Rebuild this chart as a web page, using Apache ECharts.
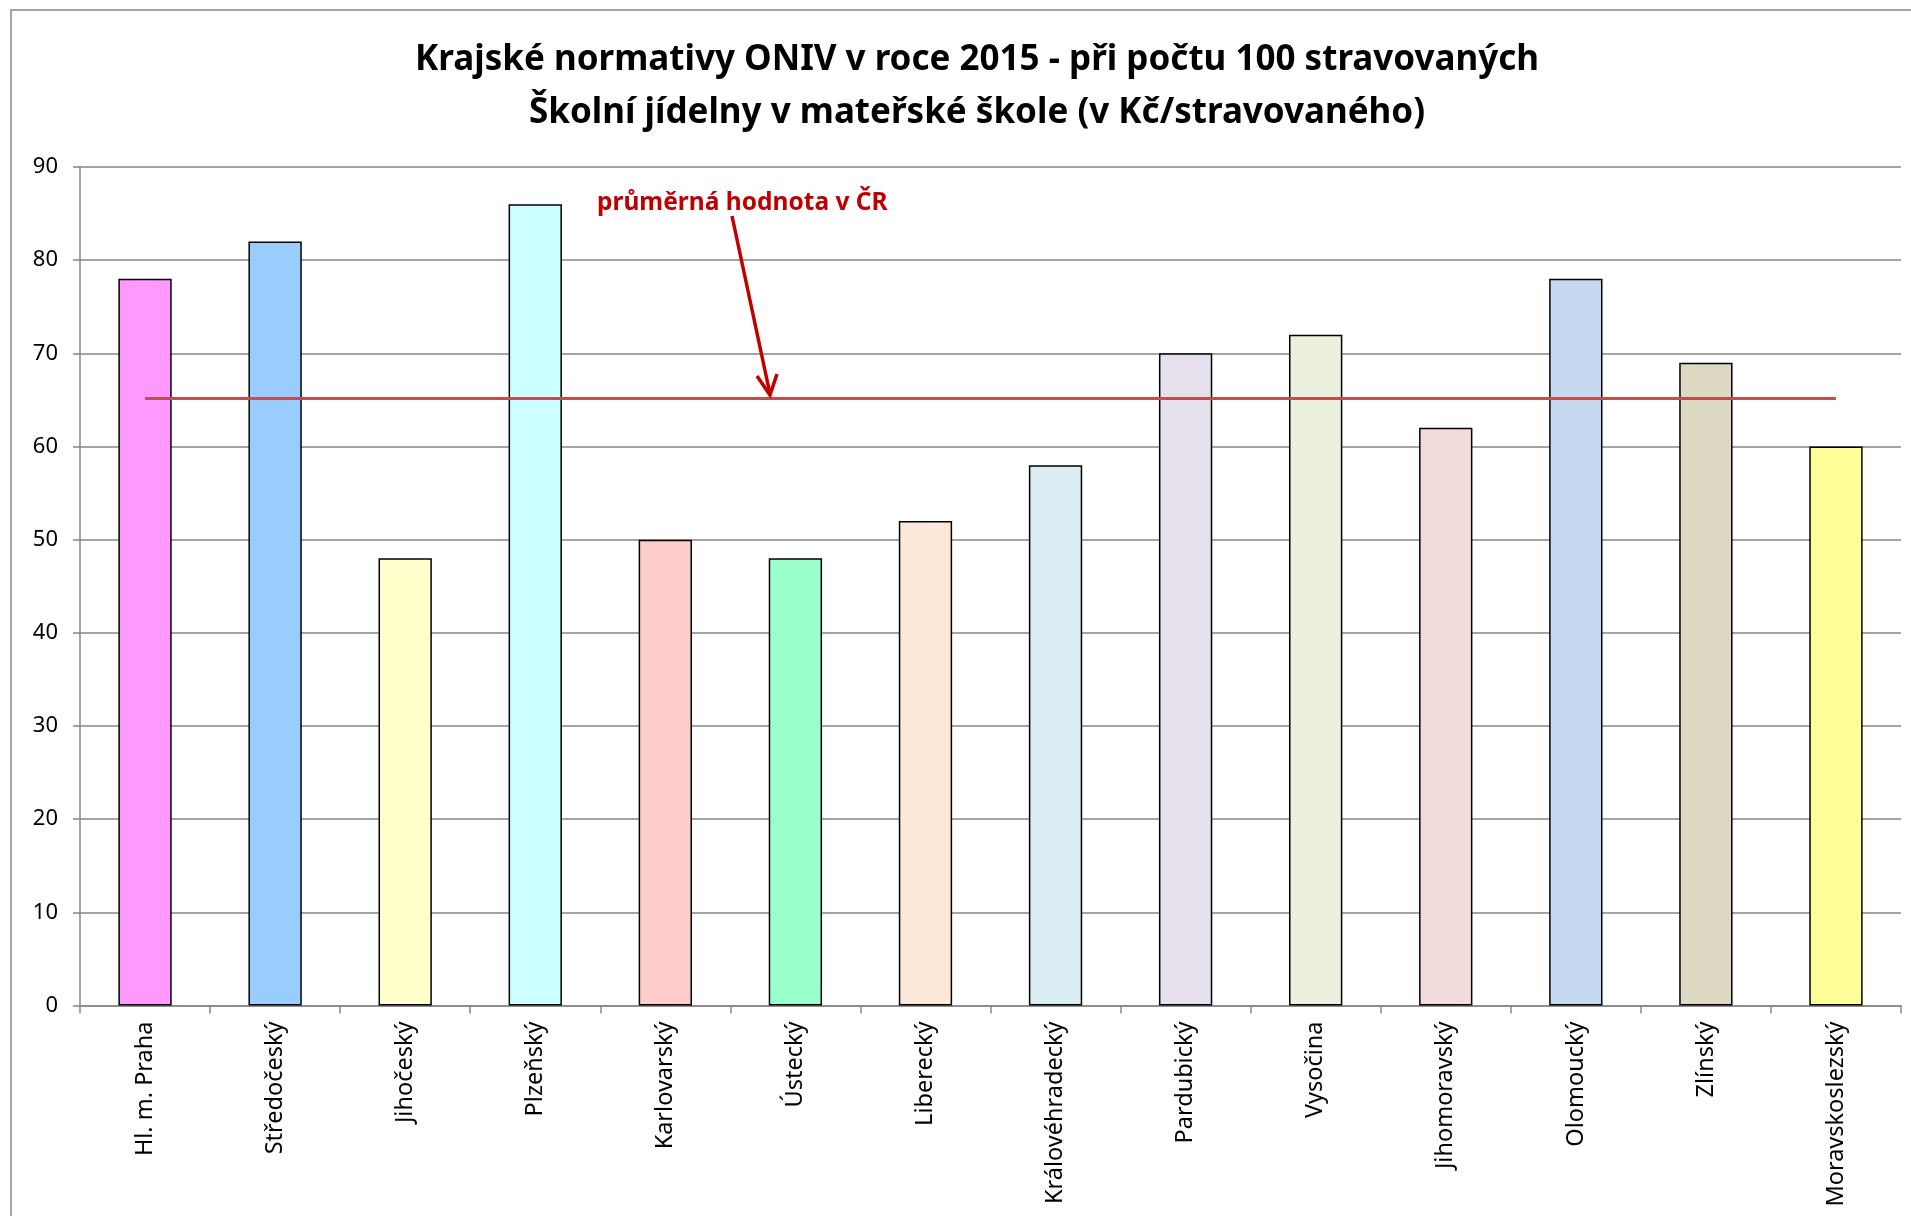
<!DOCTYPE html>
<html><head><meta charset="utf-8">
<script src="https://cdn.jsdelivr.net/npm/echarts@6/dist/echarts.min.js"></script>
<style>html,body{margin:0;padding:0;background:#fff}#c{width:1911px;height:1216px}</style>
</head><body><div id="c"></div>
<script>
const categories = ['Hl. m. Praha','Středočeský','Jihočeský','Plzeňský','Karlovarský','Ústecký','Liberecký','Královéhradecký','Pardubický','Vysočina','Jihomoravský','Olomoucký','Zlínský','Moravskoslezský'];
const values = [78, 82, 48, 86, 50, 48, 52, 58, 70, 72, 62, 78, 69, 60];
const barColors = ['#FF99FF','#99CCFF','#FFFFCC','#CCFFFF','#FFCCCC','#99FFCC','#FDE9D9','#DAEEF3','#E5E0EC','#EBF1DE','#F2DCDB','#C6D9F1','#DDD9C4','#FFFF99'];
const averageValue = 65.2;
const yTicks = [0,10,20,30,40,50,60,70,80,90];
const titleLines = ['Krajské normativy ONIV v roce 2015 - při počtu 100 stravovaných','Školní jídelny v mateřské škole (v Kč/stravovaného)'];
const annotation = 'průměrná hodnota v ČR';

const FONT = 'Noto Sans';
const chart = echarts.init(document.getElementById('c'));
chart.setOption({
  animation: false,
  backgroundColor: '#fff',
  textStyle: { fontFamily: FONT },
  title: {
    text: titleLines.join('\n'),
    left: 972, top: 29, textAlign: 'center',
    textStyle: { fontFamily: FONT, fontWeight: 'bold', fontSize: 35, lineHeight: 53, color: '#000' }
  },
  grid: { left: 80, right: 10, top: 167, bottom: 210.5, containLabel: false },
  xAxis: {
    type: 'category', data: categories,
    axisLine: { lineStyle: { color: '#868686', width: 1.5 } },
    axisTick: { show: true, length: 8, lineStyle: { color: '#868686', width: 1.5 } },
    axisLabel: { rotate: 90, margin: 16, fontSize: 23.5, color: '#000', fontFamily: FONT, interval: 0 }
  },
  yAxis: {
    type: 'value', min: yTicks[0], max: yTicks[yTicks.length-1], interval: 10,
    axisLine: { show: true, lineStyle: { color: '#868686', width: 1.5 } },
    axisTick: { show: true, length: 7, lineStyle: { color: '#868686', width: 1.5 } },
    axisLabel: { fontSize: 22, color: '#000', margin: 22, fontFamily: FONT },
    splitLine: { lineStyle: { color: '#868686', width: 1.5 } }
  },
  series: [{
    type: 'bar',
    data: values.map((v, i) => ({ value: v, itemStyle: { color: barColors[i] } })),
    barWidth: '41%',
    itemStyle: { borderColor: '#000', borderWidth: 1.5 },
    markLine: {
      silent: true, symbol: ['none','none'],
      label: { show: false },
      lineStyle: { color: '#C0504D', width: 3, type: 'solid' },
      data: [[{ coord: [categories[0], averageValue] }, { coord: [categories[categories.length-1], averageValue] }]]
    }
  }],
  graphic: [
    { type: 'rect', shape: { x: 11, y: 10, width: 1920, height: 1230 }, style: { fill: 'none', stroke: '#868686', lineWidth: 1.5 }, z: 100 },
    { type: 'text', left: 597, top: 191, style: { text: annotation, fill: '#C00000', font: 'bold 24.5px "Noto Sans"' }, z: 100 },
    { type: 'line', shape: { x1: 732, y1: 216, x2: 770, y2: 394 }, style: { stroke: '#C00000', lineWidth: 3.5 }, z: 100 },
    { type: 'polyline', shape: { points: [[757, 376], [770, 395], [777, 374]] }, style: { stroke: '#C00000', lineWidth: 3.5, fill: 'none' }, z: 100 }
  ]
});
</script></body></html>
